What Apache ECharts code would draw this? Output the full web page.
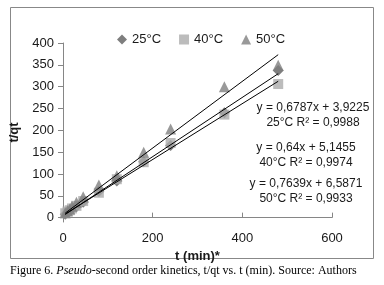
<!DOCTYPE html>
<html>
<head>
<meta charset="utf-8">
<script src="https://cdn.jsdelivr.net/npm/echarts@6/dist/echarts.min.js"></script>
<style>
html, body { margin: 0; padding: 0; background: #fff; }
#chart { width: 384px; height: 285px; }
</style>
</head>
<body>
<div id="chart"></div>
<script>
// sampling times (min)
var times = [5, 10, 15, 20, 30, 45, 80, 120, 180, 240, 360, 480];
// t/qt values
var qt25 = [8, 12, 15, 19, 25, 35, 60, 84, 128, 165, 240, 337];
var qt40 = [10, 14, 17, 21, 27, 38, 57, 88, 127, 171, 236, 306];
var qt50 = [11, 16, 20, 26, 35, 48, 75, 96, 150, 203, 300, 349];
var seriesNames = ['25°C', '40°C', '50°C'];
// linear fits shown on the chart
var slopes = [0.6787, 0.64, 0.7639];
var intercepts = [3.9225, 5.1455, 6.5871];
var eqLabels = ['y = 0,6787x + 3,9225', 'y = 0,64x + 5,1455', 'y = 0,7639x + 6,5871'];
var r2Labels = ['25°C R² = 0,9988', '40°C R² = 0,9974', '50°C R² = 0,9933'];
var yTicks = [0, 50, 100, 150, 200, 250, 300, 350, 400];

var chart = echarts.init(document.getElementById('chart'));
var font = '"Liberation Sans", Arial, sans-serif';

function pairs(ys) {
	return times.map(function(t, i) { return [t, ys[i]]; });
}
function fitLine(k) {
	var t0 = times[0], t1 = times[times.length - 1];
	return [[t0, slopes[k] * t0 + intercepts[k]], [t1, slopes[k] * t1 + intercepts[k]]];
}

var markers = ['diamond', 'rect', 'triangle'];
var colors = ['#5e5e5e', '#ababab', '#808080'];
var sizes = [11, 10, 11];
var data = [qt25, qt40, qt50];

var series = [];
data.forEach(function(ys, k) {
	series.push({
		name: seriesNames[k],
		type: 'scatter',
		symbol: markers[k],
		symbolSize: sizes[k],
		itemStyle: { color: colors[k] },
		data: pairs(ys),
		z: 2
	});
});
data.forEach(function(ys, k) {
	series.push({
		type: 'line',
		data: fitLine(k),
		symbol: 'none',
		silent: true,
		lineStyle: { color: '#000', width: 1 },
		z: 3
	});
});

var textEls = [];
var eqY = [108, 148, 184];
var eqX = [313, 306, 306];
eqLabels.forEach(function(s, k) {
	textEls.push({
		type: 'text', x: eqX[k], y: eqY[k],
		style: { text: s, font: '12px ' + font, fill: '#1a1a1a', align: 'center', verticalAlign: 'middle' }
	});
	textEls.push({
		type: 'text', x: eqX[k], y: eqY[k] + 15,
		style: { text: r2Labels[k], font: '12px ' + font, fill: '#1a1a1a', align: 'center', verticalAlign: 'middle' }
	});
});

var option = {
	backgroundColor: '#fff',
	animation: false,
	legend: {
		left: 112, top: 28,
		itemWidth: 10, itemHeight: 10, itemGap: 18,
		textStyle: { fontFamily: font, fontSize: 13, color: '#1a1a1a' },
		data: [
			{ name: seriesNames[0], icon: 'diamond' },
			{ name: seriesNames[1], icon: 'rect' },
			{ name: seriesNames[2], icon: 'triangle' }
		]
	},
	grid: { left: 63, top: 43, right: 52, bottom: 63 },
	xAxis: {
		type: 'value', min: 0, max: 600, interval: 200,
		name: 't (min)*', nameLocation: 'middle', nameGap: 20,
		nameTextStyle: { fontFamily: font, fontSize: 13, fontWeight: 'bold', color: '#1a1a1a' },
		axisLine: { lineStyle: { color: '#868686' } },
		axisTick: { inside: true, length: 5, lineStyle: { color: '#868686' } },
		axisLabel: { fontFamily: font, fontSize: 13, color: '#1a1a1a', margin: 10 },
		splitLine: { show: false }
	},
	yAxis: {
		type: 'value', min: -10, max: 400,
		name: 't/qt', nameLocation: 'middle', nameGap: 35,
		nameTextStyle: { fontFamily: font, fontSize: 13, fontWeight: 'bold', color: '#1a1a1a' },
		axisLine: { show: true, lineStyle: { color: '#868686' } },
		axisTick: { show: true, length: 5, customValues: yTicks, lineStyle: { color: '#868686' } },
		axisLabel: { fontFamily: font, fontSize: 13, color: '#1a1a1a', margin: 9, customValues: yTicks },
		splitLine: { show: false }
	},
	graphic: [
		{ type: 'rect', shape: { x: 10.5, y: 7.5, width: 363, height: 251 }, style: { fill: null, stroke: '#888', lineWidth: 1 }, z: -1 },
		{
			type: 'text', x: 10, y: 271,
			style: {
				text: 'Figure 6. {i|Pseudo}-second order kinetics, t/qt vs. t (min). Source: Authors',
				font: '12px "Liberation Serif", "Times New Roman", serif', fill: '#000', verticalAlign: 'middle',
				rich: { i: { fontStyle: 'italic', fontFamily: '"Liberation Serif", serif', fontSize: 12 } }
			}
		}
	].concat(textEls),
	series: series
};

chart.setOption(option);
</script>
</body>
</html>
